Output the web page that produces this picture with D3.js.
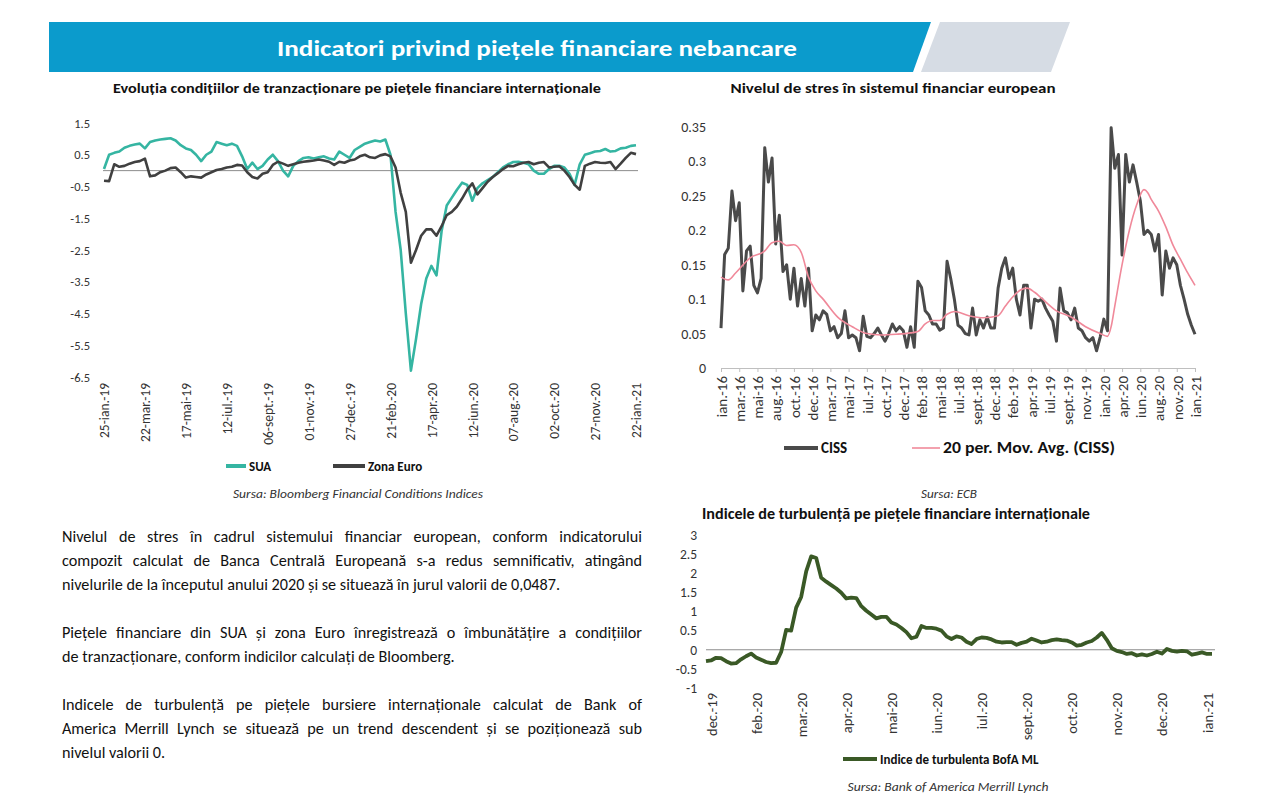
<!DOCTYPE html>
<html lang="ro">
<head>
<meta charset="UTF-8">
<meta name="viewport" content="width=device-width, initial-scale=1.0">
<title>Indicatori privind piețele financiare nebancare</title>
<script src="https://d3js.org/d3.v7.min.js"></script>
<style>
  body { margin: 0; background: #fff; }
  #page { position: relative; width: 1277px; height: 806px; overflow: hidden; font-family: Carlito, Calibri, Lato, sans-serif; }
  #page svg { position: absolute; left: 0; top: 0; }
  .row { position: absolute; left: 62px; width: 580px; line-height: 24px; font-size: 16.2px; color: #111;
         text-align: justify; text-align-last: justify; }
  .row.last { text-align: left; text-align-last: left; }
</style>
</head>
<body>
<div id="page"></div>
<script>
// ---------- data: Bloomberg FCI, weekly from 25-ian.-19 ----------
const fciUSA = [
  0.05, 0.5, 0.56, 0.6, 0.72, 0.78, 0.82, 0.85, 0.7, 0.9,
  0.95, 0.98, 1.0, 1.02, 0.95, 0.8, 0.7, 0.65, 0.5, 0.3,
  0.5, 0.6, 0.9, 0.85, 0.8, 0.85, 0.78, 0.45, 0.05, 0.25,
  0.05, 0.15, 0.35, 0.5, 0.3, 0.0, -0.18, 0.15, 0.3, 0.4,
  0.42, 0.38, 0.42, 0.45, 0.38, 0.35, 0.6, 0.5, 0.4, 0.65,
  0.75, 0.85, 0.9, 0.95, 0.92, 0.98, 0.5, -1.3, -2.5, -4.5,
  -6.3, -5.3, -4.2, -3.4, -3.0, -3.3, -1.9, -1.1, -0.85, -0.6,
  -0.38, -0.45, -0.95, -0.55, -0.4, -0.3, -0.2, -0.05, 0.1, 0.2,
  0.27, 0.28, 0.25, 0.2, 0.0, -0.1, -0.1, 0.05, 0.15, 0.15,
  0.1, -0.1, -0.45, 0.2, 0.5, 0.55, 0.6, 0.62, 0.68, 0.6,
  0.62, 0.7, 0.72, 0.78, 0.8
];
const fciEuro = [
  -0.32, -0.33, 0.2, 0.12, 0.15, 0.22, 0.27, 0.3, 0.38, -0.18,
  -0.15, -0.05, 0.0, 0.08, 0.1, -0.05, -0.22, -0.18, -0.2, -0.22,
  -0.12, -0.05, 0.02, 0.05, 0.1, 0.12, 0.18, 0.16, -0.05, -0.2,
  -0.25, -0.1, -0.05, 0.18, 0.28, 0.22, 0.15, 0.2, 0.25, 0.28,
  0.3, 0.32, 0.35, 0.32, 0.28, 0.18, 0.28, 0.25, 0.32, 0.35,
  0.45, 0.5, 0.42, 0.4, 0.48, 0.52, 0.45, 0.1, -0.7, -1.3,
  -2.9, -2.5, -2.05, -1.85, -1.85, -2.05, -1.75, -1.4, -1.3, -1.13,
  -0.88, -0.6, -0.4, -0.75, -0.55, -0.35, -0.2, -0.08, 0.05, 0.15,
  0.14, 0.2, 0.25, 0.27, 0.2, 0.25, 0.27, 0.1, 0.12, 0.14,
  0.0, -0.2, -0.45, -0.6, 0.15, 0.22, 0.27, 0.25, 0.24, 0.27,
  0.05, 0.22, 0.4, 0.56, 0.52
];
const fciLabels = ["25-ian.-19", "22-mar.-19", "17-mai-19", "12-iul.-19", "06-sept.-19", "01-nov.-19",
  "27-dec.-19", "21-feb.-20", "17-apr.-20", "12-iun.-20", "07-aug.-20", "02-oct.-20", "27-nov.-20", "22-ian.-21"];
const fciYTicks = [1.5, 0.5, -0.5, -1.5, -2.5, -3.5, -4.5, -5.5, -6.5];

// ---------- data: CISS, every 2 weeks from ian.-16 ----------
const cissValues = [
  0.058, 0.165, 0.174, 0.257, 0.214, 0.24, 0.112, 0.17, 0.177, 0.12,
  0.109, 0.13, 0.32, 0.27, 0.305, 0.18, 0.222, 0.14, 0.15, 0.1,
  0.145, 0.09, 0.13, 0.09, 0.145, 0.054, 0.077, 0.07, 0.083, 0.078,
  0.054, 0.06, 0.044, 0.05, 0.083, 0.044, 0.048, 0.044, 0.025, 0.075,
  0.046, 0.044, 0.05, 0.058, 0.048, 0.039, 0.05, 0.064, 0.054, 0.06,
  0.054, 0.03, 0.06, 0.03, 0.126, 0.117, 0.083, 0.077, 0.064, 0.064,
  0.055, 0.058, 0.155, 0.13, 0.1, 0.062, 0.058, 0.05, 0.048, 0.087,
  0.048, 0.07, 0.058, 0.074, 0.058, 0.058, 0.116, 0.145, 0.16, 0.13,
  0.145, 0.1, 0.077, 0.12, 0.12, 0.058, 0.1, 0.097, 0.1, 0.087,
  0.077, 0.068, 0.039, 0.116, 0.083, 0.08, 0.07, 0.087, 0.058, 0.054,
  0.044, 0.039, 0.044, 0.025, 0.045, 0.071, 0.054, 0.349, 0.29, 0.31,
  0.164, 0.31, 0.27, 0.295, 0.27, 0.243, 0.194, 0.2, 0.194, 0.17,
  0.194, 0.106, 0.17, 0.145, 0.16, 0.15, 0.12, 0.1, 0.078, 0.062,
  0.049
];
const maWeeks = [0, 4, 8, 16, 24, 28, 32, 36, 40, 44, 48, 52, 56, 64, 72, 80, 88, 96, 104, 108,
  112, 116, 120, 124, 128, 136, 144, 152, 156, 160, 164, 168, 172, 176, 184, 192, 200, 208, 212,
  214, 216, 220, 224, 228, 232, 234, 236, 240, 244, 248, 252, 256, 260];
const maValues = [0.132, 0.128, 0.138, 0.16, 0.17, 0.182, 0.184, 0.178, 0.179, 0.168, 0.132, 0.112, 0.1,
  0.074, 0.06, 0.05, 0.048, 0.049, 0.051, 0.053, 0.064, 0.069, 0.069, 0.078, 0.082, 0.076, 0.073,
  0.076, 0.09, 0.103, 0.113, 0.116, 0.11, 0.101, 0.083, 0.074, 0.06, 0.05, 0.046, 0.06, 0.09, 0.15,
  0.2, 0.237, 0.259, 0.255, 0.245, 0.228, 0.205, 0.178, 0.158, 0.138, 0.12];
const cissLabels = ["ian.-16", "mar.-16", "mai-16", "aug.-16", "oct.-16", "dec.-16", "mar.-17", "mai-17",
  "iul.-17", "oct.-17", "dec.-17", "feb.-18", "mai-18", "iul.-18", "sept.-18", "dec.-18", "feb.-19",
  "apr.-19", "iul.-19", "sept.-19", "nov.-19", "ian.-20", "apr.-20", "iun.-20", "aug.-20", "nov.-20", "ian.-21"];
const cissYTicks = [0, 0.05, 0.1, 0.15, 0.2, 0.25, 0.3, 0.35];

// ---------- data: BofA ML turbulence index ----------
const bofaValues = [
  -0.3, -0.28, -0.21, -0.22, -0.3, -0.36, -0.35, -0.25, -0.17, -0.1,
  -0.2, -0.26, -0.32, -0.35, -0.34, -0.06, 0.52, 0.5, 1.1, 1.38,
  2.05, 2.44, 2.4, 1.88, 1.78, 1.69, 1.6, 1.49, 1.34, 1.36,
  1.35, 1.14, 1.02, 0.92, 0.82, 0.86, 0.86, 0.71, 0.66, 0.57,
  0.46, 0.3, 0.34, 0.62, 0.57, 0.57, 0.55, 0.5, 0.35, 0.28,
  0.35, 0.32, 0.21, 0.15, 0.28, 0.32, 0.31, 0.27, 0.21, 0.19,
  0.2, 0.2, 0.13, 0.18, 0.21, 0.29, 0.24, 0.19, 0.21, 0.25,
  0.27, 0.25, 0.24, 0.19, 0.11, 0.13, 0.19, 0.23, 0.32, 0.44,
  0.26, 0.04, -0.03, -0.06, -0.11, -0.09, -0.15, -0.12, -0.15, -0.11,
  -0.05, -0.1, 0.02, -0.03, -0.05, -0.03, -0.04, -0.13, -0.1, -0.07,
  -0.11, -0.11
];
const bofaLabels = ["dec.-19", "feb.-20", "mar.-20", "apr.-20", "mai-20", "iun.-20", "iul.-20",
  "sept.-20", "oct.-20", "nov.-20", "dec.-20", "ian.-21"];
const bofaYTicks = [3, 2.5, 2, 1.5, 1, 0.5, 0, -0.5, -1];

const paragraphs = [
  ["Nivelul de stres în cadrul sistemului financiar european, conform indicatorului",
   "compozit calculat de Banca Centrală Europeană s-a redus semnificativ, atingând",
   "nivelurile de la începutul anului 2020 și se situează în jurul valorii de 0,0487."],
  ["Piețele financiare din SUA și zona Euro înregistrează o îmbunătățire a condițiilor",
   "de tranzacționare, conform indicilor calculați de Bloomberg."],
  ["Indicele de turbulență pe piețele bursiere internaționale calculat de Bank of",
   "America Merrill Lynch se situează pe un trend descendent și se poziționează sub",
   "nivelul valorii 0."]
];

// ---------- page ----------
const FONT = "Carlito, Calibri, Lato, sans-serif";
const page = d3.select("#page");
const svg = page.append("svg").attr("width", 1277).attr("height", 806);

// banner
svg.append("polygon").attr("points", "49,22 931,22 913,72 49,72").attr("fill", "#0b9bcc");
svg.append("polygon").attr("points", "940,22 1070,22 1051,72 921,72").attr("fill", "#d6dce4");
svg.append("text")
  .attr("x", 537).attr("y", 56)
  .attr("text-anchor", "middle")
  .attr("font-family", FONT).attr("font-size", 23).attr("font-weight", "bold")
  .attr("fill", "#fff")
  .attr("textLength", 520).attr("lengthAdjust", "spacingAndGlyphs")
  .text("Indicatori privind piețele financiare nebancare");

// small helper for centred titles / sources
function caption(x, y, txt, size, width, opts = {}) {
  svg.append("text")
    .attr("x", x).attr("y", y)
    .attr("text-anchor", "middle")
    .attr("font-family", FONT).attr("font-size", size)
    .attr("font-weight", opts.bold ? "bold" : "normal")
    .attr("font-style", opts.italic ? "italic" : "normal")
    .attr("fill", opts.color || "#111")
    .attr("textLength", width).attr("lengthAdjust", "spacingAndGlyphs")
    .text(txt);
}

function legendItem(x1, x2, y, color, w, txt, size, len) {
  svg.append("line").attr("x1", x1).attr("x2", x2).attr("y1", y).attr("y2", y)
    .attr("stroke", color).attr("stroke-width", w);
  const t = svg.append("text").attr("x", x2 + 3).attr("y", y).attr("dy", "0.35em")
    .attr("font-family", FONT).attr("font-size", size).attr("font-weight", "bold")
    .attr("fill", "#111").text(txt);
  if (len) t.attr("textLength", len).attr("lengthAdjust", "spacingAndGlyphs");
}

function styleAxis(g, size) {
  g.attr("font-family", FONT).attr("font-size", size);
  g.selectAll("text").attr("fill", "#333");
}

// ---------- chart 1: Bloomberg FCI ----------
caption(357, 93, "Evoluția condițiilor de tranzacționare pe piețele financiare internaționale", 14, 488, { bold: true });

const fx = d3.scaleLinear().domain([0, 104]).range([104, 636]);
const fy = d3.scaleLinear().domain([-6.5, 1.5]).range([377, 123]);

svg.append("line")
  .attr("x1", 103).attr("x2", 638).attr("y1", fy(0)).attr("y2", fy(0))
  .attr("stroke", "#8c8c8c").attr("stroke-width", 1);

const fciLine = d3.line().x((d, i) => fx(i)).y(d => fy(d));
svg.append("path").attr("d", fciLine(fciUSA))
  .attr("fill", "none").attr("stroke", "#35b5a2").attr("stroke-width", 2.6).attr("stroke-linejoin", "round");
svg.append("path").attr("d", fciLine(fciEuro))
  .attr("fill", "none").attr("stroke", "#404040").attr("stroke-width", 2.6).attr("stroke-linejoin", "round");

svg.append("g").attr("transform", "translate(90,0)")
  .call(d3.axisLeft(fy).tickValues(fciYTicks).tickSize(0).tickPadding(0).tickFormat(d => String(d)))
  .call(g => g.select(".domain").remove())
  .call(g => styleAxis(g, 12.5));

svg.append("g").attr("transform", "translate(0,377)")
  .call(d3.axisBottom(fx).tickValues(fciLabels.map((d, i) => i * 8)).tickSize(0)
    .tickFormat((d, i) => fciLabels[i]))
  .call(g => g.select(".domain").remove())
  .call(g => styleAxis(g, 13.5))
  .selectAll("text")
  .attr("transform", "rotate(-90)").attr("text-anchor", "end")
  .attr("x", -6).attr("y", 0).attr("dy", "0.35em");

legendItem(226, 246, 466, "#35b5a2", 4, "SUA", 13);
legendItem(333, 365, 466, "#404040", 4, "Zona Euro", 13);
caption(358, 498, "Sursa: Bloomberg Financial Conditions Indices", 12, 250, { italic: true, color: "#333" });

// ---------- chart 2: CISS ----------
caption(893, 93, "Nivelul de stres în sistemul financiar european", 14, 325, { bold: true });

const cx = d3.scaleLinear().domain([0, 260]).range([721, 1195]);
const cy = d3.scaleLinear().domain([0, 0.35]).range([368, 127]);

svg.append("g").attr("transform", "translate(706,0)")
  .call(d3.axisLeft(cy).tickValues(cissYTicks).tickSize(0).tickPadding(0).tickFormat(d3.format(".2~f")))
  .call(g => g.select(".domain").remove())
  .call(g => styleAxis(g, 14));

svg.append("g").attr("transform", "translate(0,368)")
  .call(d3.axisBottom(cx).tickValues(cissLabels.map((d, i) => i * 10)).tickSize(4).tickSizeOuter(0)
    .tickFormat((d, i) => cissLabels[i]))
  .call(g => g.selectAll(".domain, line").attr("stroke", "#bfbfbf"))
  .call(g => styleAxis(g, 15))
  .selectAll("text")
  .attr("transform", "rotate(-90)").attr("text-anchor", "end")
  .attr("x", -8).attr("y", 0).attr("dy", "0.35em");

svg.append("path")
  .attr("d", d3.line().x((d, i) => cx(i * 2)).y(d => cy(d))(cissValues))
  .attr("fill", "none").attr("stroke", "#4a4a4a").attr("stroke-width", 3).attr("stroke-linejoin", "round");
svg.append("path")
  .attr("d", d3.line().x((d, i) => cx(maWeeks[i])).y(d => cy(d)).curve(d3.curveMonotoneX)(maValues))
  .attr("fill", "none").attr("stroke", "#f0899a").attr("stroke-width", 1.6);

legendItem(784, 818, 448, "#4a4a4a", 4, "CISS", 15);
legendItem(912, 940, 448, "#f0899a", 1.6, "20 per. Mov. Avg. (CISS)", 15, 172);
caption(949, 498, "Sursa: ECB", 12, 56, { italic: true, color: "#333" });

// ---------- chart 3: BofA ML turbulence ----------
caption(896, 519, "Indicele de turbulență pe piețele financiare internaționale", 15, 388, { bold: true });

const tx = d3.scaleLinear().domain([0, 101]).range([706, 1212]);
const ty = d3.scaleLinear().domain([-1, 3]).range([688, 535]);

svg.append("line")
  .attr("x1", 706).attr("x2", 1215).attr("y1", ty(0)).attr("y2", ty(0))
  .attr("stroke", "#8c8c8c").attr("stroke-width", 1);

svg.append("path")
  .attr("d", d3.line().x((d, i) => tx(i)).y(d => ty(d))(bofaValues))
  .attr("fill", "none").attr("stroke", "#3a5926").attr("stroke-width", 3.8).attr("stroke-linejoin", "round");

svg.append("g").attr("transform", "translate(697,0)")
  .call(d3.axisLeft(ty).tickValues(bofaYTicks).tickSize(0).tickPadding(0).tickFormat(d => String(d)))
  .call(g => g.select(".domain").remove())
  .call(g => styleAxis(g, 13.5));

svg.append("g").attr("transform", "translate(0,688)")
  .call(d3.axisBottom(tx).tickValues(bofaLabels.map((d, i) => 1 + 9 * i)).tickSize(0)
    .tickFormat((d, i) => bofaLabels[i]))
  .call(g => g.select(".domain").remove())
  .call(g => styleAxis(g, 14.5))
  .selectAll("text")
  .attr("transform", "rotate(-90)").attr("text-anchor", "end")
  .attr("x", -5).attr("y", 0).attr("dy", "0.35em");

legendItem(843, 877, 759, "#3a5926", 4, "Indice de turbulenta BofA ML", 13);
caption(948, 791, "Sursa: Bank of America Merrill Lynch", 12, 201, { italic: true, color: "#333" });

// ---------- text block ----------
const rowTops = [[525, 549, 573], [621, 645], [693, 717, 741]];
paragraphs.forEach((lines, p) => {
  lines.forEach((txt, j) => {
    page.append("div")
      .attr("class", "row" + (j === lines.length - 1 ? " last" : ""))
      .style("top", rowTops[p][j] + "px")
      .text(txt);
  });
});
</script>
</body>
</html>
